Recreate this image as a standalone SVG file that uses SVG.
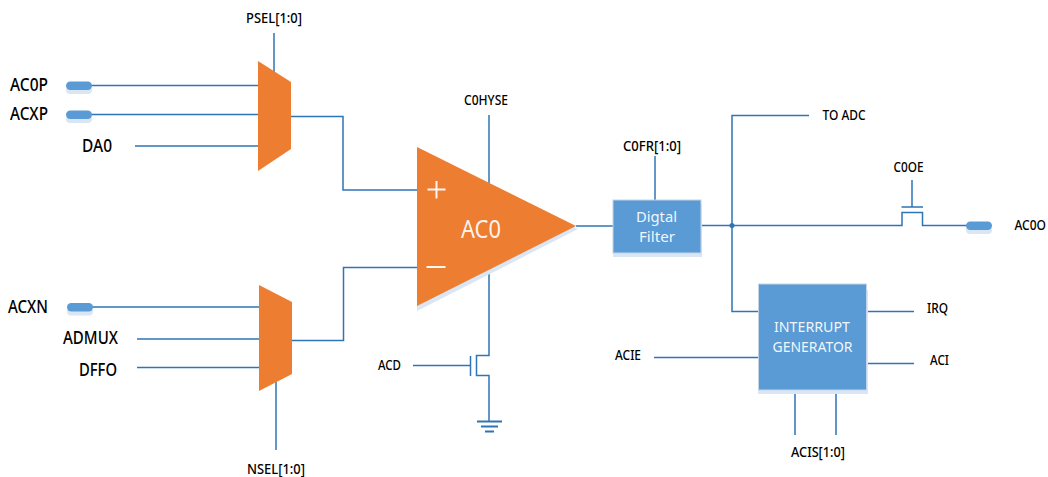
<svg xmlns="http://www.w3.org/2000/svg" width="1048" height="477" viewBox="0 0 1048 477">
<style>
text{font-family:"Noto Sans","Open Sans","Liberation Sans",sans-serif;fill:#000;font-weight:500;}
.s{font-size:15px}
.m{font-size:18px}
.w{fill:#fff;fill-opacity:.93;font-weight:400}
.c{fill:none;stroke:#2e75b6;stroke-width:1.5}
.o{fill:#ed7d31}
.b{fill:#5b9bd5}
.sh{fill:#dbe6f4}
</style>
<g id="connectors">
<path class="c" d="M274 33V72"/>
<path class="c" d="M90 85.500H258M90 114.500H258M135 146H258"/>
<path class="c" d="M291 116.500H343V190H417"/>
<path class="c" d="M92 307H259M137 339H259M137 367.500H259"/>
<path class="c" d="M276 380V450"/>
<path class="c" d="M292 340.500H343.500V267.500H417"/>
<path class="c" d="M489 115V183"/>
<path class="c" d="M489 268V355.500H476.500V375.500H489V422"/>
<path class="c" d="M413 365.500H470M470.500 356V376"/>
<path class="c" d="M477 421.500H502M481 426.500H498M485 431.500H494" style="stroke-width:1.800"/>
<path class="c" d="M576 226H613"/>
<path class="c" d="M655 156V200"/>
<path class="c" d="M701 225.500H902V212.500H922.500V225.500H975"/>
<path class="c" d="M901.500 207H923M912 180V207"/>
<path class="c" d="M809 115.500H732V311.500H758"/>
<circle cx="732" cy="225.500" r="2.500" fill="#2e75b6"/>
<path class="c" d="M654 357.500H758"/>
<path class="c" d="M866 311.500H914M866 363.500H914"/>
<path class="c" d="M795 390V435M836 390V435"/>
</g>
<g id="port-ac0p"><rect class="sh" x="66" y="86" width="26" height="8" rx="4"/><rect class="b" x="66" y="81.500" width="26" height="8.500" rx="4.200"/><text class="m" x="10" y="91" textLength="38" lengthAdjust="spacingAndGlyphs">AC0P</text></g>
<g id="port-acxp"><rect class="sh" x="66" y="115" width="26" height="8" rx="4"/><rect class="b" x="66" y="110.500" width="26" height="8.500" rx="4.200"/><text class="m" x="10" y="120" textLength="38" lengthAdjust="spacingAndGlyphs">ACXP</text></g>
<g id="label-da0"><text class="m" x="82" y="152" textLength="30" lengthAdjust="spacingAndGlyphs">DA0</text></g>
<g id="port-acxn"><rect class="sh" x="67" y="307.500" width="26" height="8" rx="4"/><rect class="b" x="67" y="303" width="26" height="8.500" rx="4.200"/><text class="m" x="8" y="313" textLength="40" lengthAdjust="spacingAndGlyphs">ACXN</text></g>
<g id="label-admux"><text class="m" x="63" y="344" textLength="55" lengthAdjust="spacingAndGlyphs">ADMUX</text></g>
<g id="label-dffo"><text class="m" x="79" y="376" textLength="38" lengthAdjust="spacingAndGlyphs">DFFO</text></g>
<g id="label-psel"><text class="s" x="246" y="23" textLength="56" lengthAdjust="spacingAndGlyphs">PSEL[1:0]</text></g>
<g id="label-nsel"><text class="s" x="247" y="474" textLength="58" lengthAdjust="spacingAndGlyphs">NSEL[1:0]</text></g>
<g id="mux-p"><polygon class="o" points="258,61 291,82 291,149 258,171"/></g>
<g id="mux-n"><polygon class="o" points="259,285 292,302 292,374 259,391"/></g>
<g id="comparator">
<polygon class="sh" points="417,150 578,229 417,311"/>
<polygon class="o" points="417,147 576,226 417,306"/>
<text class="w" x="461" y="238" font-size="25" textLength="40" lengthAdjust="spacingAndGlyphs">AC0</text>
<path d="M427.500 189.500H445.500M436.500 181V198.500M426.500 267H445.500" fill="none" stroke="#fff" stroke-opacity=".93" stroke-width="2"/>
</g>
<g id="label-c0hyse"><text class="s" x="464" y="105" textLength="44" lengthAdjust="spacingAndGlyphs">C0HYSE</text></g>
<g id="label-acd"><text class="s" x="378" y="370" textLength="23" lengthAdjust="spacingAndGlyphs">ACD</text></g>
<g id="digital-filter">
<rect class="sh" x="613" y="204" width="89" height="53"/>
<rect class="b" x="613" y="200" width="88" height="53" stroke="#c3d4e8" stroke-width="1"/>
<text class="w" x="636" y="222" font-size="15" textLength="41" lengthAdjust="spacingAndGlyphs">Digtal</text>
<text class="w" x="639" y="242" font-size="15" textLength="36" lengthAdjust="spacingAndGlyphs">Filter</text>
</g>
<g id="label-c0fr"><text class="s" x="623" y="151" textLength="58" lengthAdjust="spacingAndGlyphs">C0FR[1:0]</text></g>
<g id="label-to-adc"><text class="s" x="822.500" y="120" textLength="43" lengthAdjust="spacingAndGlyphs">TO ADC</text></g>
<g id="label-c0oe"><text class="s" x="893.500" y="172" textLength="30" lengthAdjust="spacingAndGlyphs">C0OE</text></g>
<g id="port-ac0o"><rect class="sh" x="966" y="226" width="26" height="8" rx="4"/><rect class="b" x="966" y="221.500" width="26" height="8.500" rx="4.200"/><text class="s" transform="translate(1014.500 230) scale(.8 1)">AC0O</text></g>
<g id="interrupt-generator">
<rect class="sh" x="758" y="290" width="110" height="104"/>
<rect class="b" x="758.500" y="284" width="108" height="106" stroke="#c3d4e8" stroke-width="1"/>
<text class="w" x="774" y="332" font-size="15" textLength="76" lengthAdjust="spacingAndGlyphs">INTERRUPT</text>
<text class="w" x="772.500" y="352" font-size="15" textLength="80" lengthAdjust="spacingAndGlyphs">GENERATOR</text>
</g>
<g id="label-acie"><text class="s" x="615" y="360" textLength="26" lengthAdjust="spacingAndGlyphs">ACIE</text></g>
<g id="label-irq"><text class="s" x="927" y="313" textLength="21" lengthAdjust="spacingAndGlyphs">IRQ</text></g>
<g id="label-aci"><text class="s" x="930" y="365" textLength="19" lengthAdjust="spacingAndGlyphs">ACI</text></g>
<g id="label-acis"><text class="s" x="791" y="457" textLength="54" lengthAdjust="spacingAndGlyphs">ACIS[1:0]</text></g>
</svg>
